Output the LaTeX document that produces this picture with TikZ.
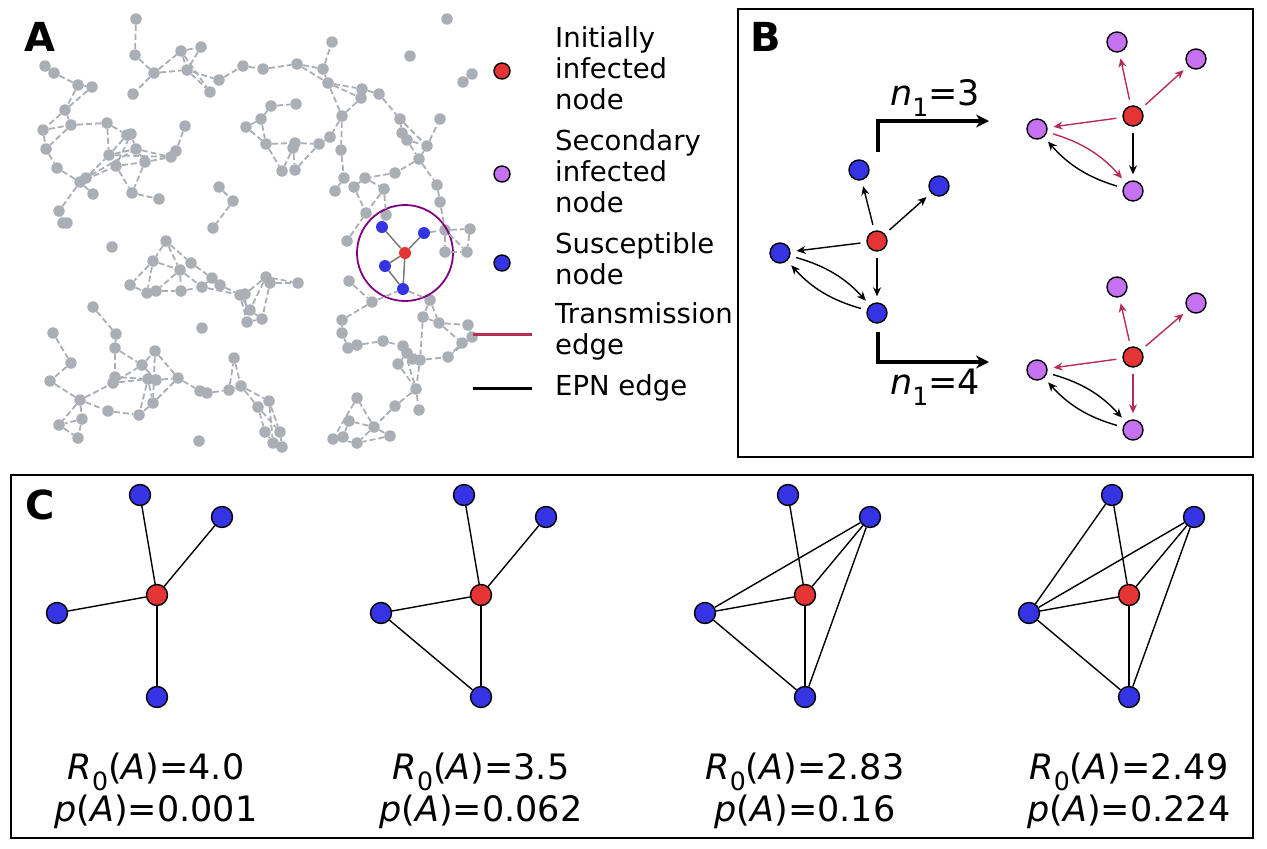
\documentclass[tikz,border=0pt]{standalone}
\usepackage{fontspec}
\setmainfont{DejaVu Sans}
\usetikzlibrary{arrows.meta}

\definecolor{netgray}{RGB}{170,174,181}
\definecolor{linkgray}{RGB}{120,120,120}
\definecolor{infred}{RGB}{228,52,52}
\definecolor{suscblue}{RGB}{52,52,228}
\definecolor{secpurple}{RGB}{198,112,242}
\definecolor{transred}{RGB}{185,45,85}
\definecolor{ringpurple}{RGB}{128,0,128}

\newcommand{\lowidx}[1]{\raisebox{-0.3em}{\scalebox{0.72}{#1}}}

\tikzset{
  gnode/.style={circle,fill=netgray,inner sep=0pt,minimum size=11.5pt},
  gedge/.style={netgray,line width=1.8pt,dash pattern=on 6pt off 3pt},
  hotnode/.style={circle,fill=#1,inner sep=0pt,minimum size=12pt},
  bignode/.style={circle,draw=black,line width=1.4pt,fill=#1,inner sep=0pt,minimum size=20pt},
  legmark/.style={circle,draw=black,line width=1.4pt,fill=#1,inner sep=0pt,minimum size=16pt},
  legtext/.style={anchor=west,align=left,inner sep=0pt,font=\fontsize{27.5}{31}\selectfont},
  panlabel/.style={font=\fontsize{40}{40}\selectfont\bfseries,inner sep=0pt},
  panelbox/.style={draw=black,line width=1.5pt},
  epn/.style={-{Stealth[length=9pt,width=8pt]},black,line width=1.4pt,shorten >=6pt,shorten <=6pt},
  trans/.style={-{Stealth[length=9pt,width=8pt]},transred,line width=1.4pt,shorten >=6pt,shorten <=6pt},
  elbow/.style={-{Stealth[length=13pt,width=13pt]},black,line width=3.2pt},
  mathlbl/.style={font=\fontsize{35}{42}\selectfont,inner sep=0pt,align=center},
  plain/.style={black,line width=1.4pt}
}

\begin{document}
\begin{tikzpicture}[x=1pt,y=-1pt]
\useasboundingbox (0,0) rectangle (1267,849);

% panel A: contact network
\node[panlabel] (labA) at (40,37) {A};
\foreach \nm/\px/\py in {a1/136/19,a2/135/55,a3/154/73,a4/133/94,a5/181/51,a6/201/47,a7/187/70,a8/219/80,a9/210/92,a10/243/66,
  b1/45/66,b2/54/73,b3/78/85,b4/92/87,b5/65/110,b6/43/130,b7/71/125,b8/107/123,b9/127/135,b9x/131/134,b10/46/149,b11/57/168,
  b12/80/182,b12x/86/178,b13/93/194,b14/109/155,b15/116/166,b16/136/149,b17/145/162,b18/171/157,b18x/176/151,b19/185/126,
  b20/132/193,b21/159/199,b22/59/211,b23/63/223,b23x/67/223,b24/219/187,b25/233/201,b26/213/228,
  c2/263/69,c3/297/64,c4/323/69,c5/332/42,c6/328/83,c7/362/89,c8/361/98,c9/379/94,c10/400/119,c11/402/133,c12/407/140,
  c13/427/146,c14/440/119,c15/419/159,c16/437/185,c17/440/202,c18/410/56,c19/447/19,c20/463/82,c20x/472/74,c21/342/116,
  c22/330/137,c23/341/150,c24/395/173,c25/365/178,c26/384/189,c27/354/187,c28/344/178,c29/335/191,c30/366/213,c31/386/215,
  c32/271/106,c33/296/104,c34/261/119,c35/246/127,c36/266/144,c37/295/143,c37x/293/148,c38/319/144,c39/282/171,c40/295/170,
  d2/112/247,d3/166/241,d4/153/261,d5/191/263,d6/180/270,d7/130/285,d8/147/293,d8x/156/291,d9/181/291,d10/202/287,
  d11/212/278,d12/220/285,d13/240/295,d13x/245/294,d14/250/310,d14x/247/322,d15/202/328,e1/266/277,e1x/270/283,e2/298/283,e4/262/319,
  d16/93/307,d17/116/334,d18/115/348,d19/53/333,d20/71/363,d21/50/381,d22/80/400,d23/82/419,d24/59/425,d25/78/438,
  d26/108/411,d27/113/383,d27x/115/377,d28/142/365,d29/155/351,d30/148/379,d30x/156/380,d31/153/403,d32/139/415,d33/178/378,
  d34/200/391,d34x/207/393,d35/229/390,d36/234/358,d37/241/386,d38/199/441,e6/258/407,e6x/269/401,e7/265/432,e7x/280/432,
  e8/273/443,e8x/282/447,
  e9/347/241,e10/349/281,e11/372/302,e12/430/300,e13/423/317,e14/439/323,e15/468/325,e16/472/337,e16x/462/343,e17/448/357,
  e18/420/360,e18x/413/359,e19/403/346,e19x/407/353,e20/383/341,e21/357/345,e21x/348/348,e22/342/320,e22x/342/333,
  e23/398/364,e24/416/389,e25/419/410,e26/395/406,e27/357/398,e28/374/427,e29/390/436,e30/349/421,e31/333/439,
  e31x/343/437,e31y/357/443,e32/445/230,e32x/470/229,e33/445/252,e33x/467/252}
  \node[gnode] (\nm) at (\px,\py) {};

% focus ring with the seed and its contacts
\node[circle,draw=ringpurple,line width=1.8pt,minimum size=96pt,inner sep=0pt] (ring) at (405,253) {};
\node[hotnode=infred] (seed) at (405,253) {};
\node[hotnode=suscblue] (bl1) at (382,227) {};
\node[hotnode=suscblue] (bl2) at (424,233) {};
\node[hotnode=suscblue] (bl3) at (385,266) {};
\node[hotnode=suscblue] (bl4) at (403,289) {};

\foreach \u/\v in {a1/a2,a2/a3,a3/a4,a3/a5,a3/a7,a5/a6,a6/a7,a5/a7,a7/a8,a7/a9,a5/a9,a8/a10,
  b1/b2,b2/b3,b3/b4,b3/b5,b4/b5,b5/b6,b5/b7,b6/b7,b7/b8,b6/b10,b7/b10,b8/b9,b10/b11,b11/b12,b12/b13,b12x/b14,b12/b15,
  b12/b22,b22/b23,b8/b14,b14/b9,b14/b16,b15/b9x,b15/b17,b15/b20,b16/b9x,b16/b17,b17/b18,b14/b18,b16/b18,b17/b20,
  b20/b21,b18x/b19,b12x/b16,b24/b25,b25/b26,b9/b9x,b18/b18x,
  a10/c2,c2/c3,c3/c4,c3/c6,c4/c5,c4/c6,c6/c7,c6/c8,c6/c21,c7/c9,c8/c21,c9/c10,c10/c11,c10/c13,c11/c12,c12/c13,c13/c14,
  c13/c15,c12/c15,c15/c16,c16/c17,c15/c24,c24/c25,c25/c26,c25/c27,c26/c30,c27/c30,c26/c31,c21/c22,c21/c23,c23/c28,
  c28/c29,c32/c33,c32/c34,c34/c35,c34/c36,c35/c36,c36/c37,c37/c38,c37x/c39,c37x/c40,c36/c39,c38/c22,c38/c40,c20/c20x,c7/c8,
  d3/d4,d3/d5,d3/d6,d4/d6,d4/d7,d4/d8,d7/d8,d6/d8x,d6/d9,d5/d11,d6/d10,d8x/d9,d9/d10,d10/d11,d11/d12,d12/d13,d10/d13,
  d13/d14,d13x/d14x,d13x/e1,e1/e2,e1x/e2,e1/d14,e1x/e4,d14/e4,d14x/e4,d13/d14x,
  d16/d17,d17/d18,d18/d28,d18/d27x,d19/d20,d20/d21,d21/d22,d22/d23,d22/d24,d23/d24,d24/d25,d23/d25,d22/d26,d22/d27,
  d26/d32,d27/d30,d27x/d30,d27/d28,d28/d29,d28/d30x,d29/d31,d29/d33,d30/d31,d30x/d33,d30/d32,d31/d32,d31/d33,d33/d34,
  d34x/d35,d35/d36,d35/d37,d36/d37,d37/e6,d37/e6x,e6/e7,e6x/e7x,e6/e7x,e7/e8,e7x/e8x,e6x/e8,
  e9/c30,c31/bl1,e10/e11,e11/bl4,bl4/e12,e12/e13,e13/e14,e14/e15,e14/e16x,e15/e16,e16/e17,e16x/e17,e13/e18,e11/e22,
  e22/e22x,e22x/e21x,e21/e20,e20/e19,e19/e18x,e19x/e23,e18/e17,e18/e24,e19/e24,e23/e24,e24/e25,e24/e26,e26/e28,
  e28/e27,e28/e29,e28/e30,e30/e31x,e27/e31,e31/e31y,e29/e31y,e28/e31y,e32/e32x,e32/e33,e32x/e33x,e33/e33x,e32/e33x,
  c17/e32,bl2/e32,e12/e14}
  \draw[gedge] (\u) -- (\v);

\foreach \v in {bl1,bl2,bl3,bl4}
  \draw[linkgray,line width=1.5pt] (seed) -- (\v);
\draw[linkgray,line width=1.5pt] (bl3) -- (bl4);

% legend
\node[legmark=infred] (mkI) at (502,71) {};
\node[legmark=secpurple] (mkS) at (502,174) {};
\node[legmark=suscblue] (mkU) at (502,263) {};
\coordinate (trL) at (473,334); \coordinate (trR) at (532,334);
\coordinate (epL) at (473,388); \coordinate (epR) at (532,388);
\draw[transred,line width=3pt] (trL) -- (trR);
\draw[black,line width=3pt] (epL) -- (epR);
\node[legtext] (txI) at (555,68) {Initially\\infected\\node};
\node[legtext] (txS) at (555,171) {Secondary\\infected\\node};
\node[legtext] (txU) at (555,259) {Susceptible\\node};
\node[legtext] (txT) at (555,331) {Transmission\\edge};
\node[legtext] (txE) at (555,388) {EPN edge};

% panel B: how many get infected
\draw[panelbox] (738,9) rectangle (1253,457);
\node[panlabel] (labB) at (766,37) {B};

\node[bignode=infred] (s0) at (877,241) {};
\node[bignode=suscblue] (s1) at (859,170) {};
\node[bignode=suscblue] (s2) at (939,186) {};
\node[bignode=suscblue] (s3) at (780,253) {};
\node[bignode=suscblue] (s4) at (877,313) {};
\foreach \v in {s1,s2,s3,s4} \draw[epn] (s0) -- (\v);
\draw[epn] (s3) to[bend left=16] (s4);
\draw[epn] (s4) to[bend left=16] (s3);

\coordinate (up0) at (878,152); \coordinate (up1) at (989,121);
\coordinate (dn0) at (878,332); \coordinate (dn1) at (989,362);
\draw[elbow] (up0) |- (up1);
\draw[elbow] (dn0) |- (dn1);
\node[mathlbl] (nthree) at (935,98) {\textit{n}\lowidx{1}=3};
\node[mathlbl] (nfour) at (935,387) {\textit{n}\lowidx{1}=4};

\node[bignode=infred] (t0) at (1133,116) {};
\node[bignode=secpurple] (t1) at (1117,42) {};
\node[bignode=secpurple] (t2) at (1196,59) {};
\node[bignode=secpurple] (t3) at (1037,129) {};
\node[bignode=secpurple] (t4) at (1133,191) {};
\foreach \v in {t1,t2,t3} \draw[trans] (t0) -- (\v);
\draw[epn] (t0) -- (t4);
\draw[trans] (t3) to[bend left=16] (t4);
\draw[epn] (t4) to[bend left=16] (t3);

\node[bignode=infred] (f0) at (1133,357) {};
\node[bignode=secpurple] (f1) at (1117,287) {};
\node[bignode=secpurple] (f2) at (1196,303) {};
\node[bignode=secpurple] (f3) at (1037,370) {};
\node[bignode=secpurple] (f4) at (1133,430) {};
\foreach \v in {f1,f2,f3,f4} \draw[trans] (f0) -- (\v);
\draw[epn] (f3) to[bend left=16] (f4);
\draw[epn] (f4) to[bend left=16] (f3);

% panel C: four local structures
\draw[panelbox] (11,475) rectangle (1253,838);
\node[panlabel] (labC) at (40,505) {C};

\foreach \k/\cx in {1/157,2/481,3/805,4/1129} {
  \node[bignode=infred,minimum size=21pt] (r\k) at (\cx,595) {};
  \node[bignode=suscblue,minimum size=21pt] (u\k) at ({\cx-17},495) {};
  \node[bignode=suscblue,minimum size=21pt] (v\k) at ({\cx+65},517) {};
  \node[bignode=suscblue,minimum size=21pt] (w\k) at ({\cx-100},613) {};
  \node[bignode=suscblue,minimum size=21pt] (z\k) at (\cx,697) {};
}
\foreach \k in {1,2,3,4}
  \foreach \v in {u,v,w,z} \draw[plain] (r\k) -- (\v\k);
\draw[plain] (w2) -- (z2);
\draw[plain] (w3) -- (z3); \draw[plain] (w3) -- (v3); \draw[plain] (v3) -- (z3);
\draw[plain] (w4) -- (z4); \draw[plain] (w4) -- (v4); \draw[plain] (v4) -- (z4); \draw[plain] (w4) -- (u4);

\node[mathlbl] (sc1) at (156,791) {\textit{R}\lowidx{0}(\textit{A})=4.0\\\textit{p}(\textit{A})=0.001};
\node[mathlbl] (sc2) at (481,791) {\textit{R}\lowidx{0}(\textit{A})=3.5\\\textit{p}(\textit{A})=0.062};
\node[mathlbl] (sc3) at (805,791) {\textit{R}\lowidx{0}(\textit{A})=2.83\\\textit{p}(\textit{A})=0.16};
\node[mathlbl] (sc4) at (1129,791) {\textit{R}\lowidx{0}(\textit{A})=2.49\\\textit{p}(\textit{A})=0.224};
\end{tikzpicture}
\end{document}
